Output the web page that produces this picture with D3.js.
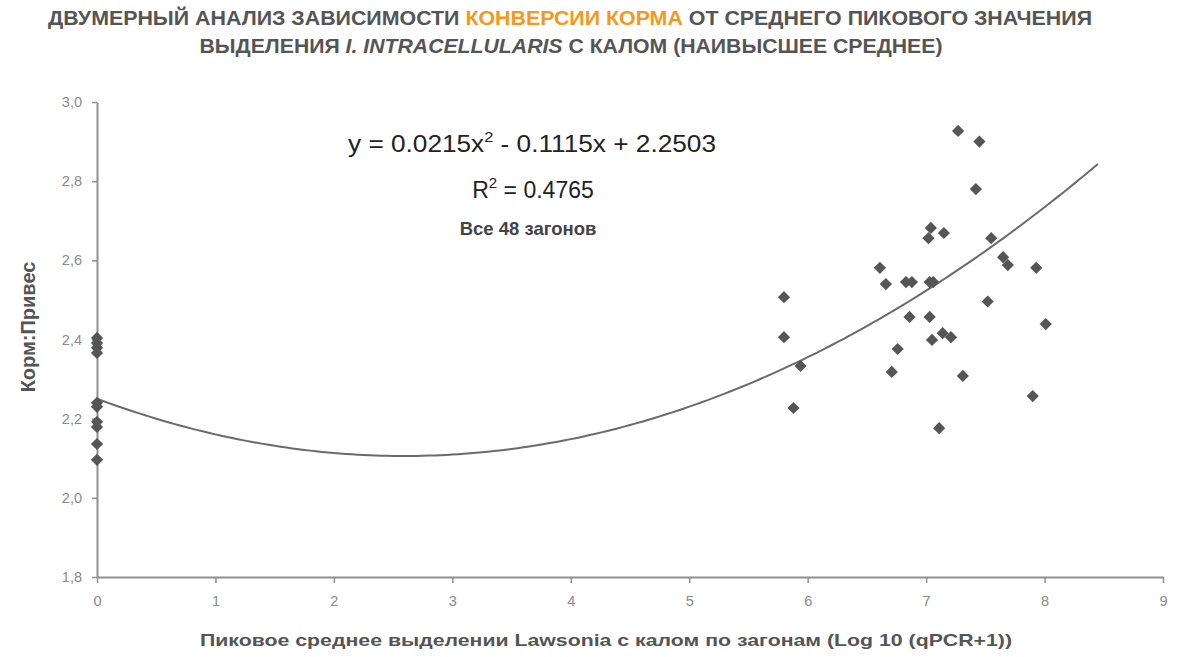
<!DOCTYPE html>
<html lang="ru">
<head>
<meta charset="utf-8">
<script src="https://cdn.jsdelivr.net/npm/d3@7"></script>
<style>
  html, body { margin: 0; padding: 0; background: #fff; }
  svg { display: block; font-family: "Liberation Sans", Arial, sans-serif; }
</style>
</head>
<body>
<svg id="chart" width="1191" height="657"></svg>
<script>
// Pens with zero peak shedding (x = 0)
const zeroPenX = [0, 0, 0, 0, 0, 0, 0, 0, 0, 0];
const zeroPenY = [2.404, 2.391, 2.379, 2.366, 2.240, 2.230, 2.192, 2.179, 2.136, 2.096];

// Pens with detected shedding: peak mean Log10(qPCR+1) and feed conversion
const shedX = [7.27, 7.45, 7.42, 7.04, 7.02, 7.15, 7.55, 7.65, 7.69, 7.93,
               6.61, 6.66, 6.83, 6.88, 7.03, 7.06, 5.80, 7.52, 6.86, 7.03,
               5.80, 7.05, 7.14, 7.21, 6.76, 5.94, 6.71, 7.31, 7.90, 5.88,
               7.11, 8.01];
const shedY = [2.927, 2.900, 2.780, 2.682, 2.656, 2.669, 2.656, 2.608, 2.588, 2.581,
               2.581, 2.540, 2.545, 2.545, 2.545, 2.545, 2.507, 2.496, 2.457, 2.457,
               2.406, 2.399, 2.416, 2.406, 2.376, 2.333, 2.318, 2.308, 2.257, 2.227,
               2.176, 2.439];

// Quadratic trend: y = a x^2 + b x + c, drawn over this x span
const trendCoef = [0.0215, -0.1115, 2.2503];
const trendSpan = [0, 8.45];

const xTicks = [0, 1, 2, 3, 4, 5, 6, 7, 8, 9];
const yTicks = [1.8, 2.0, 2.2, 2.4, 2.6, 2.8, 3.0];

const svg = d3.select("#chart");
const x = d3.scaleLinear().domain([0, 9]).range([97, 1163]);
const y = d3.scaleLinear().domain([1.8, 3.0]).range([577, 102]);

const axisColor = "#8f8f8f";
const tickTextColor = "#8a8a8a";

// Title
const title = svg.append("g").attr("font-weight", "bold").attr("fill", "#555")
  .attr("font-size", 21).attr("text-anchor", "middle");
const t1 = title.append("text").attr("x", 570).attr("y", 25)
  .attr("textLength", 1044).attr("lengthAdjust", "spacingAndGlyphs");
t1.append("tspan").text("ДВУМЕРНЫЙ АНАЛИЗ ЗАВИСИМОСТИ ");
t1.append("tspan").attr("fill", "#f39a1e").text("КОНВЕРСИИ КОРМА");
t1.append("tspan").text(" ОТ СРЕДНЕГО ПИКОВОГО ЗНАЧЕНИЯ");
const t2 = title.append("text").attr("x", 571).attr("y", 53)
  .attr("textLength", 743).attr("lengthAdjust", "spacingAndGlyphs");
t2.append("tspan").text("ВЫДЕЛЕНИЯ ");
t2.append("tspan").attr("font-style", "italic").text("I. INTRACELLULARIS");
t2.append("tspan").text(" С КАЛОМ (НАИВЫСШЕЕ СРЕДНЕЕ)");

// Axes
const xAxis = svg.append("g").attr("transform", `translate(0,${y(1.8)})`)
  .call(d3.axisBottom(x).tickValues(xTicks).tickSize(6).tickSizeOuter(0).tickPadding(10)
    .tickFormat(d3.format("d")));
const yAxis = svg.append("g").attr("transform", `translate(${x(0)},0)`)
  .call(d3.axisLeft(y).tickValues(yTicks).tickSize(5).tickSizeOuter(0).tickPadding(10)
    .tickFormat(d => d3.format(".1f")(d).replace(".", ",")));
[xAxis, yAxis].forEach(g => {
  g.select(".domain").attr("stroke", axisColor).attr("stroke-width", 2);
  g.selectAll(".tick line").attr("stroke", axisColor).attr("stroke-width", 1.5);
  g.selectAll(".tick text").attr("fill", tickTextColor).attr("font-size", 14.5)
    .attr("font-family", "'Liberation Sans', Arial, sans-serif");
});
xAxis.selectAll(".tick text").attr("dy", "0.9em");

// Axis titles
svg.append("text").attr("x", 606).attr("y", 646).attr("text-anchor", "middle")
  .attr("font-weight", "bold").attr("font-size", 17).attr("fill", "#555")
  .attr("textLength", 812).attr("lengthAdjust", "spacingAndGlyphs")
  .text("Пиковое среднее выделении Lawsonia с калом по загонам (Log 10 (qPCR+1))");
svg.append("text").attr("transform", "translate(35,327) rotate(-90)")
  .attr("text-anchor", "middle").attr("font-weight", "bold").attr("font-size", 20)
  .attr("fill", "#555").text("Корм:Привес");

// Trend curve
const [a, b, c] = trendCoef;
const trendPts = d3.range(trendSpan[0], trendSpan[1] + 1e-9, 0.05).map(v => [v, a * v * v + b * v + c]);
svg.append("path").datum(trendPts)
  .attr("fill", "none").attr("stroke", "#6a6a6a").attr("stroke-width", 2)
  .attr("d", d3.line().x(d => x(d[0])).y(d => y(d[1])).curve(d3.curveLinear));

// Points
const pts = zeroPenX.map((v, i) => [v, zeroPenY[i]])
  .concat(shedX.map((v, i) => [v, shedY[i]]));
const diamond = d3.symbol().type(d3.symbolDiamond2).size(95);
svg.append("g").selectAll("path").data(pts).join("path")
  .attr("transform", d => `translate(${x(d[0])},${y(d[1])})`)
  .attr("d", diamond).attr("fill", "#555");

// Equation annotation
const eq = svg.append("text").attr("x", 532).attr("y", 152).attr("text-anchor", "middle")
  .attr("font-size", 24).attr("fill", "#222")
  .attr("textLength", 368).attr("lengthAdjust", "spacingAndGlyphs");
eq.append("tspan").text("y = 0.0215x");
eq.append("tspan").attr("font-size", 15).attr("dy", -10).text("2");
eq.append("tspan").attr("dy", 10).text(" - 0.1115x + 2.2503");
const r2 = svg.append("text").attr("x", 533).attr("y", 198).attr("text-anchor", "middle")
  .attr("font-size", 23).attr("fill", "#222");
r2.append("tspan").text("R");
r2.append("tspan").attr("font-size", 15).attr("dy", -10).text("2");
r2.append("tspan").attr("dy", 10).text(" = 0.4765");
svg.append("text").attr("x", 528).attr("y", 235).attr("text-anchor", "middle")
  .attr("font-size", 18.5).attr("font-weight", "bold").attr("fill", "#444")
  .text("Все 48 загонов");
</script>
</body>
</html>
